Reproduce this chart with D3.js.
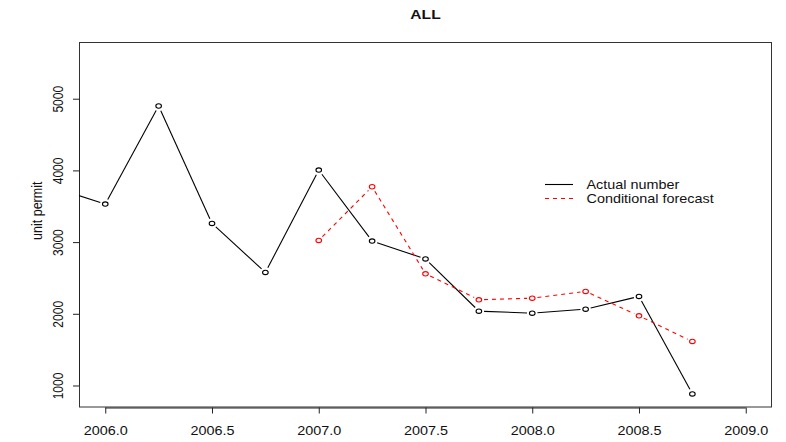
<!DOCTYPE html>
<html>
<head>
<meta charset="utf-8">
<script src="https://cdn.jsdelivr.net/npm/d3@7"></script>
<style>
  html, body { margin: 0; padding: 0; background: #fff; }
  svg { display: block; font-family: "Liberation Sans", Arial, sans-serif; }
</style>
</head>
<body>
<svg id="chart" width="786" height="442"></svg>
<script>
// ---- data ----
const title = "ALL";
const yLabel = "unit permit";
const actualTime = [2005.75, 2006.0, 2006.25, 2006.5, 2006.75, 2007.0, 2007.25, 2007.5, 2007.75, 2008.0, 2008.25, 2008.5, 2008.75];
const actualValues = [3770, 3530, 4898, 3261, 2577, 4004, 3014, 2765, 2037, 2009, 2065, 2242, 883];
const forecastTime = [2007.0, 2007.25, 2007.5, 2007.75, 2008.0, 2008.25, 2008.5, 2008.75];
const forecastValues = [3024, 3772, 2558, 2195, 2218, 2312, 1971, 1614];
const xTicks = [2006.0, 2006.5, 2007.0, 2007.5, 2008.0, 2008.5, 2009.0];
const yTicks = [1000, 2000, 3000, 4000, 5000];
const legendLabels = ["Actual number", "Conditional forecast"];

// ---- layout ----
const svg = d3.select("#chart");
const L = 79, R = 772, T = 42, B = 407.5;
const SX = 1.2; // horizontal stretch of the original rendering
const x = d3.scaleLinear().domain([2005.877, 2009.123]).range([L, R]);
const y = d3.scaleLinear().domain([693, 5791]).range([B, T]);

svg.append("defs").append("clipPath").attr("id", "clip")
  .append("rect").attr("x", L).attr("y", T).attr("width", R - L).attr("height", B - T);

// box
svg.append("rect").attr("x", L + 0.5).attr("y", T + 0.5)
  .attr("width", R - L - 1).attr("height", B - T - 1)
  .attr("fill", "none").attr("stroke", "#333").attr("stroke-width", 1);

// x axis
const xAxis = d3.axisBottom(x).tickValues(xTicks).tickFormat(d3.format(".1f")).tickSize(6).tickPadding(13);
const gx = svg.append("g").attr("transform", `translate(0,${B})`).call(xAxis);
gx.select(".domain").attr("d", `M${x(xTicks[0])},0.5H${x(xTicks[xTicks.length-1])}`).attr("stroke", "#222");
gx.selectAll(".tick line").attr("stroke", "#222");
gx.selectAll(".tick text").attr("font-size", "12px").attr("fill", "#111")
  .attr("font-family", "Liberation Sans, Arial, sans-serif")
  .attr("transform", `scale(${SX},1)`);

// y axis
const yAxis = d3.axisLeft(y).tickValues(yTicks).tickFormat(d3.format("d")).tickSize(6);
const gy = svg.append("g").attr("transform", `translate(${L},0)`).call(yAxis);
gy.select(".domain").attr("d", `M0.5,${y(yTicks[0])}V${y(yTicks[yTicks.length-1])}`).attr("stroke", "#222");
gy.selectAll(".tick line").attr("stroke", "#222");
gy.selectAll(".tick text").attr("font-size", "12px").attr("fill", "#111")
  .attr("font-family", "Liberation Sans, Arial, sans-serif")
  .attr("text-anchor", "middle")
  .attr("x", 0).attr("dy", null).attr("y", 0)
  .attr("transform", `translate(-21,0) scale(${SX},1) rotate(-90)`)
  .attr("dominant-baseline", "central");

// title
svg.append("text").attr("transform", `translate(${(L + R) / 2},18.5) scale(${SX},1)`)
  .attr("text-anchor", "middle")
  .attr("font-size", "13px").attr("font-weight", "bold").attr("fill", "#111").text(title);

// y label
svg.append("text").attr("transform", `translate(37,${(T + B) / 2 - 14}) scale(${SX},1) rotate(-90)`)
  .attr("text-anchor", "middle").attr("dominant-baseline", "central")
  .attr("font-size", "12.5px").attr("fill", "#111").text(yLabel);

// series drawing (R type="b": gaps between segments and points)
const plot = svg.append("g").attr("clip-path", "url(#clip)");
function drawSeries(times, vals, color, dash) {
  const pts = times.map((t, i) => [x(t), y(vals[i])]);
  const gap = 5.2;
  const segs = [];
  for (let i = 0; i < pts.length - 1; i++) {
    const [x1, y1] = pts[i], [x2, y2] = pts[i + 1];
    const dx = x2 - x1, dy = y2 - y1, len = Math.hypot(dx, dy);
    if (len <= 2 * gap) continue;
    const ux = dx / len, uy = dy / len;
    segs.push([x1 + ux * gap, y1 + uy * gap, x2 - ux * gap, y2 - uy * gap]);
  }
  plot.selectAll(null).data(segs).enter().append("line")
    .attr("x1", d => d[0]).attr("y1", d => d[1]).attr("x2", d => d[2]).attr("y2", d => d[3])
    .attr("stroke", color).attr("stroke-width", 1.1)
    .attr("stroke-dasharray", dash || null);
  plot.selectAll(null).data(pts).enter().append("ellipse")
    .attr("cx", d => d[0]).attr("cy", d => d[1]).attr("rx", 2.8).attr("ry", 2.2)
    .attr("fill", "none").attr("stroke", color).attr("stroke-width", 1.1);
}
drawSeries(actualTime, actualValues, "#000", null);
drawSeries(forecastTime, forecastValues, "#ff0000", "4,4");

// legend
const leg = svg.append("g");
const legY = [184.5, 198.5];
const legColors = ["#000", "#ff0000"];
const legDash = [null, "4,4"];
legendLabels.forEach((lab, i) => {
  leg.append("line").attr("x1", 545).attr("x2", 573).attr("y1", legY[i]).attr("y2", legY[i])
    .attr("stroke", legColors[i]).attr("stroke-width", 1.1).attr("stroke-dasharray", legDash[i]);
  leg.append("text").attr("transform", `translate(586.5,${legY[i]}) scale(${SX},1)`)
    .attr("dominant-baseline", "central")
    .attr("font-size", "12px").attr("fill", "#111").text(lab);
});
</script>
</body>
</html>
